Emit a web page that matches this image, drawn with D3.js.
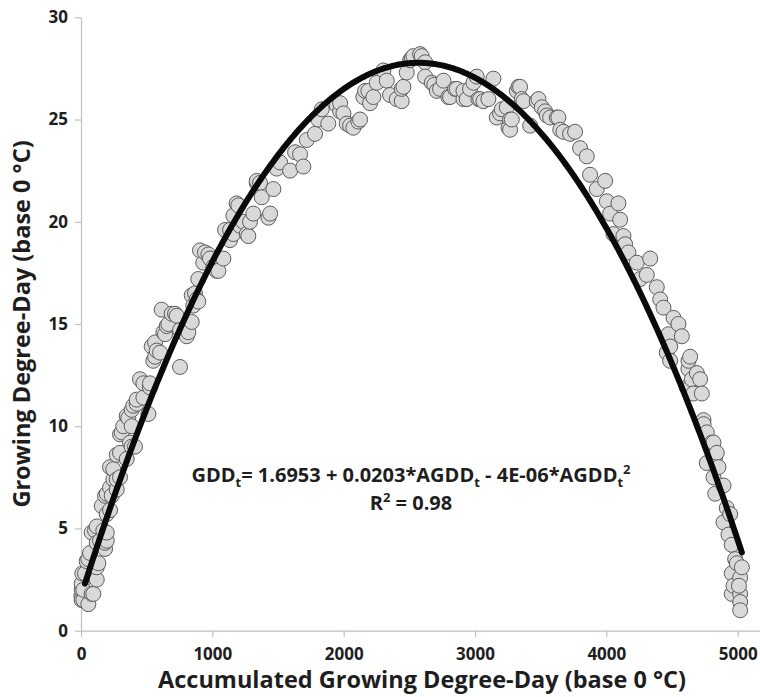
<!DOCTYPE html>
<html>
<head>
<meta charset="utf-8">
<script src="https://cdn.jsdelivr.net/npm/d3@7"></script>
<style>
  html, body { margin: 0; padding: 0; background: #fff; }
  svg { display: block; font-family: "Open Sans", "Noto Sans", sans-serif; }
</style>
</head>
<body>
<div id="chart"></div>
<script>
const width = 760;
const height = 697;

// accumulated GDD (x) and daily GDD (y)
const agdd = [3,5,5,5,10,18,18,30,43,56,56,69,81,81,94,107,120,120,120,120,132,145,158,170,183,183,183,196,196,196,196,
  221,221,221,234,246,246,272,272,272,297,297,297,310,322,348,348,360,373,386,386,386,398,411,424,424,449,475,475,
  513,525,525,538,551,564,564,576,602,614,627,640,653,665,690,716,729,754,754,805,817,843,843,855,868,881,893,893,
  906,931,944,970,982,1008,1033,1046,1084,1097,1135,1135,1160,1160,1185,1198,1211,1236,1262,1274,1287,1312,1338,1338,
  1363,1376,1427,1440,1465,1490,1516,1592,1630,1668,1693,1719,1782,1807,1833,1883,1947,1973,1973,1998,2023,2049,2074,
  2112,2125,2150,2163,2188,2201,2226,2252,2302,2328,2353,2404,2442,2442,2455,2480,2506,2518,2531,2582,2594,2620,2620,
  2671,2690,2709,2734,2760,2797,2810,2848,2861,2912,2912,2937,2962,2988,3013,3026,3039,3064,3102,3140,3166,3191,3204,
  3242,3255,3267,3267,3280,3318,3331,3343,3356,3369,3420,3470,3483,3509,3534,3547,3572,3623,3635,3649,3673,3724,3762,
  3800,3851,3876,3927,3991,4004,4029,4054,4092,4105,4130,4143,4168,4232,4257,4308,4334,4384,4410,4435,4460,4473,4486,
  4486,4511,4549,4575,4613,4625,4625,4638,4638,4651,4663,4689,4714,4727,4740,4740,4765,4765,4803,4816,4816,4829,4829,
  4841,4854,4892,4892,4917,4930,4943,4955,4955,4955,4968,4981,4994,5019,5019,5019,5019,5032,5010];
const gdd = [1.7,1.5,2.0,2.3,2.8,1.5,2.0,2.8,3.4,1.3,3.5,3.8,1.8,4.8,1.8,4.9,2.5,3.1,4.3,5.1,3.3,4.4,6.1,4.9,4.0,4.3,6.6,4.4,4.8,5.7,6.7,
  5.9,7.0,8.0,6.6,7.4,7.9,6.9,7.4,8.6,7.5,8.7,9.6,9.7,10.0,8.4,10.5,10.4,9.2,9.0,10.0,10.8,11.0,9.0,11.1,11.3,12.3,11.4,12.1,
  10.6,11.9,12.1,13.9,13.2,13.4,14.1,13.7,13.6,15.7,14.6,14.5,14.9,15.0,15.5,15.5,15.4,14.7,12.9,14.4,14.6,15.1,16.4,15.9,16.5,16.2,16.1,17.2,
  18.6,18.0,18.5,18.4,18.2,17.8,17.6,17.6,18.2,19.6,19.1,19.6,19.4,20.3,20.9,20.8,19.8,20.0,19.4,19.3,20.0,20.4,21.9,22.0,
  21.9,21.2,20.2,20.4,21.6,22.6,22.9,22.5,23.4,23.3,22.7,24.0,24.3,25.0,25.5,24.8,25.7,25.4,25.8,25.3,24.8,24.7,24.6,
  24.9,25.0,26.1,26.4,26.4,25.8,26.1,26.8,27.4,26.9,26.2,26.0,25.9,26.5,26.6,27.3,27.9,28.0,28.1,28.2,28.1,27.8,27.1,
  26.8,26.7,26.4,26.5,26.9,26.1,26.1,26.5,26.5,26.0,26.4,26.0,26.5,26.8,27.1,26.0,26.0,25.9,26.0,27.0,25.1,25.3,25.5,
  25.6,24.6,25.0,24.5,25.0,26.4,26.6,26.6,26.0,25.9,24.7,25.9,26.0,25.6,25.4,25.2,25.1,25.1,25.1,24.5,24.4,24.3,24.4,
  23.6,23.2,22.3,21.6,22.0,21.0,20.4,19.4,20.9,20.1,19.3,18.9,18.5,18.0,17.2,17.4,18.2,16.8,16.2,15.8,13.6,14.5,13.9,
  13.2,15.3,15.0,14.4,11.9,12.8,13.2,13.4,11.9,12.3,11.6,12.6,12.3,11.6,10.3,10.1,9.7,8.2,9.2,9.2,7.5,8.5,6.7,
  8.7,8.0,7.1,5.3,6.0,4.7,5.7,4.2,2.8,1.8,2.2,3.5,3.3,2.6,1.8,1.4,1.0,3.1,2.2];

const xTicks = [0, 1000, 2000, 3000, 4000, 5000];
const yTicks = [0, 5, 10, 15, 20, 25, 30];

// trend line: GDD = c0 + c1*AGDD + c2*AGDD^2 (c2 shown rounded as 4E-06)
const c0 = 1.6953, c1 = 0.0203, c2 = -3.95e-6;
const fitRange = [30, 5032];

const svg = d3.select("#chart").append("svg")
  .attr("width", width)
  .attr("height", height);

const x = d3.scaleLinear().domain([0, 5170]).range([81, 760]);
const y = d3.scaleLinear().domain([0, 30]).range([630.7, 17.3]);

const axisColor = "#bfbfbf";
const textColor = "#1e1e1e";

// axes
const gx = svg.append("g")
  .attr("transform", `translate(0,${y(0)})`)
  .call(d3.axisBottom(x).tickValues(xTicks).tickFormat(d3.format("d"))
    .tickSize(6).tickPadding(11).tickSizeOuter(0));
const gy = svg.append("g")
  .attr("transform", `translate(${x(0)},0)`)
  .call(d3.axisLeft(y).tickValues(yTicks).tickFormat(d3.format("d"))
    .tickSize(6).tickPadding(7).tickSizeOuter(0));

[gx, gy].forEach(g => {
  g.select(".domain").attr("stroke", axisColor).attr("stroke-width", 1.2);
  g.selectAll(".tick line").attr("stroke", axisColor).attr("stroke-width", 1.2);
  g.selectAll(".tick text")
    .attr("fill", textColor)
    .style("font-family", "'Open Sans', sans-serif")
    .style("font-size", "17px")
    .style("font-weight", "bold");
});

// scatter
const pts = agdd.map((v, i) => ({x: v, y: gdd[i]}));
svg.append("g").selectAll("circle")
  .data(pts)
  .join("circle")
  .attr("cx", d => x(d.x))
  .attr("cy", d => y(d.y))
  .attr("r", 7.5)
  .attr("fill", "#d9d9d9")
  .attr("stroke", "#5c5c5c")
  .attr("stroke-width", 1);

// trend line
const fitX = d3.range(fitRange[0], fitRange[1], 10).concat([fitRange[1]]);
svg.append("path")
  .datum(fitX)
  .attr("fill", "none")
  .attr("stroke", "#0a0a0a")
  .attr("stroke-width", 6)
  .attr("stroke-linecap", "round")
  .attr("d", d3.line().x(d => x(d)).y(d => y(c0 + c1 * d + c2 * d * d)));

// equation
const eq = svg.append("text")
  .attr("x", 411)
  .attr("y", 482)
  .attr("text-anchor", "middle")
  .attr("fill", textColor)
  .style("font-size", "20px")
  .style("font-weight", "bold")
  .style("white-space", "pre");
eq.append("tspan").text("GDD");
eq.append("tspan").attr("dy", 5).style("font-size", "13px").text("t");
eq.append("tspan").attr("dy", -5).text("= 1.6953 + 0.0203*AGDD");
eq.append("tspan").attr("dy", 5).style("font-size", "13px").text("t");
eq.append("tspan").attr("dy", -5).text(" - 4E-06*AGDD");
eq.append("tspan").attr("dy", 5).style("font-size", "13px").text("t");
eq.append("tspan").attr("dy", -13).style("font-size", "13px").text("2");

const r2 = svg.append("text")
  .attr("x", 411)
  .attr("y", 510)
  .attr("text-anchor", "middle")
  .attr("fill", textColor)
  .style("font-size", "20px")
  .style("font-weight", "bold")
  .style("white-space", "pre");
r2.append("tspan").text("R");
r2.append("tspan").attr("dy", -8).style("font-size", "13px").text("2");
r2.append("tspan").attr("dy", 8).text(" = 0.98");

// axis titles
svg.append("text")
  .attr("x", 422)
  .attr("y", 688)
  .attr("text-anchor", "middle")
  .attr("fill", textColor)
  .style("font-size", "23.5px")
  .style("font-weight", "bold")
  .text("Accumulated Growing Degree-Day (base 0 °C)");

svg.append("text")
  .attr("transform", "translate(30,324) rotate(-90)")
  .attr("text-anchor", "middle")
  .attr("fill", textColor)
  .style("font-size", "23.5px")
  .style("font-weight", "bold")
  .text("Growing Degree-Day (base 0 °C)");
</script>
</body>
</html>
